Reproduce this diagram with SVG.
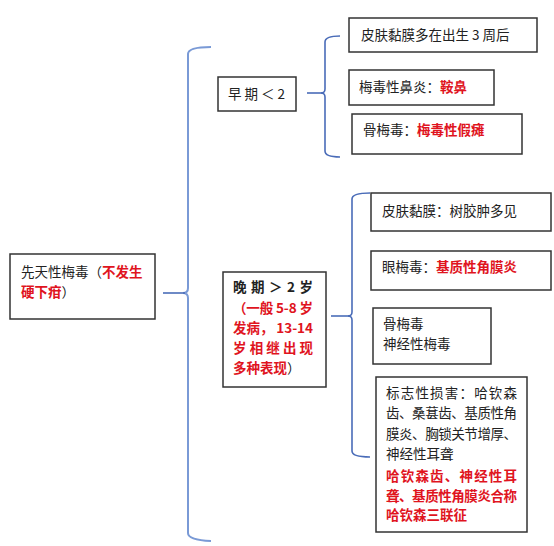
<svg xmlns="http://www.w3.org/2000/svg" width="554" height="546" viewBox="0 0 554 546">
<style>
.box{fill:#fff;stroke:#333;stroke-width:1.5}
text{font-family:"Noto Sans CJK SC","Noto Sans",sans-serif;font-size:13.5px;fill:#222}
.r{fill:#e0141e;font-weight:bold}
.br{fill:none;stroke:#4a6cb8;stroke-width:1.6}
.big{stroke:#7a9ad6;stroke-width:2}
</style>
<rect width="554" height="546" fill="#fff"/>
<g id="connectors">
<path class="br big" d="M211,47 Q188,47 188,54 L188,288 Q188,293 183,293 Q188,293 188,298 L188,533 Q188,540 211,541"/>
<line class="br" x1="163" y1="293" x2="185" y2="293" stroke="#2d4fa0"/>
<path class="br" d="M340,36 Q325,36 325,42 L325,89 Q325,93 321,93 Q325,93 325,97 L325,151 Q325,157 340,157"/>
<line class="br" x1="307" y1="93" x2="322" y2="93"/>
<path class="br" d="M370,193 Q352,193 352,199 L352,312 Q352,316 348,316 Q352,316 352,320 L352,451 Q352,457 370,457"/>
<line class="br" x1="331" y1="316" x2="349" y2="316"/>
</g>
<g id="root">
<rect class="box" x="10" y="254" width="145" height="65"/>
<text x="21" y="277">先天性梅毒（<tspan class="r">不发生</tspan></text>
<text x="21" y="297"><tspan class="r">硬下疳</tspan>）</text>
</g>
<g id="early">
<rect class="box" x="218" y="77" width="78" height="34"/>
<text x="228" y="99" textLength="57" lengthAdjust="spacing">早期＜2</text>
</g>
<g id="early1">
<rect class="box" x="349" y="18" width="188" height="34"/>
<text x="361" y="40">皮肤黏膜多在出生 3 周后</text>
</g>
<g id="early2">
<rect class="box" x="349" y="70" width="145" height="35"/>
<text x="359" y="92">梅毒性鼻炎：<tspan class="r">鞍鼻</tspan></text>
</g>
<g id="early3">
<rect class="box" x="352" y="114" width="170" height="40"/>
<text x="363" y="135">骨梅毒：<tspan class="r">梅毒性假瘫</tspan></text>
</g>
<g id="late">
<rect class="box" x="223" y="272" width="103" height="115"/>
<text x="233" y="292" textLength="80" lengthAdjust="spacing" font-weight="bold">晚 期 ＞ 2 岁</text>
<text class="r" x="233" y="313" textLength="80" lengthAdjust="spacing">（一般 5-8 岁</text>
<text class="r" x="233" y="333" textLength="80" lengthAdjust="spacing">发病， 13-14</text>
<text class="r" x="233" y="353" textLength="80" lengthAdjust="spacing">岁相继出现</text>
<text x="233" y="373"><tspan class="r">多种表现</tspan>）</text>
</g>
<g id="late1">
<rect class="box" x="371" y="193" width="180" height="38"/>
<text x="382" y="216">皮肤黏膜：树胶肿多见</text>
</g>
<g id="late2">
<rect class="box" x="371" y="251" width="180" height="39"/>
<text x="382" y="272">眼梅毒：<tspan class="r">基质性角膜炎</tspan></text>
</g>
<g id="late3">
<rect class="box" x="373" y="308" width="118" height="56"/>
<text x="383" y="329">骨梅毒</text>
<text x="383" y="349">神经性梅毒</text>
</g>
<g id="late4">
<rect class="box" x="376" y="377" width="151" height="155"/>
<text x="386" y="398" textLength="131" lengthAdjust="spacing">标志性损害：哈钦森</text>
<text x="386" y="418" textLength="131" lengthAdjust="spacing">齿、桑葚齿、基质性角</text>
<text x="386" y="439" textLength="131" lengthAdjust="spacing">膜炎、胸锁关节增厚、</text>
<text x="386" y="459">神经性耳聋</text>
<text class="r" x="386" y="481" textLength="131" lengthAdjust="spacing">哈钦森齿、神经性耳</text>
<text class="r" x="386" y="501" textLength="131" lengthAdjust="spacing">聋、基质性角膜炎合称</text>
<text class="r" x="386" y="520">哈钦森三联征</text>
</g>
</svg>
